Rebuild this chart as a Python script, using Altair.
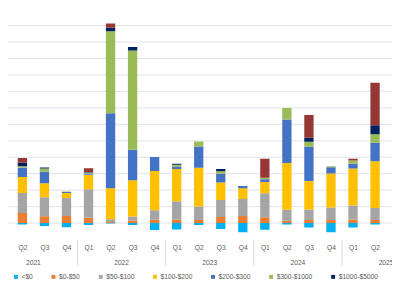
import json
import altair as alt
import pandas as pd

FONT = "Liberation Sans"
TEXT_COLOR = "#595959"
FS = 6.8

# Categories
quarter_labels = ["Q1", "Q2", "Q3", "Q4", "Q1", "Q2", "Q3", "Q4", "Q1", "Q2", "Q3", "Q4",
                  "Q1", "Q2", "Q3", "Q4", "Q1", "Q2"]
years = ["2021", "2022", "2023", "2024", "2025"]
series = ["<$0", "$0-$50", "$50-$100", "$100-$200", "$200-$300", "$300-$1000",
          "$1000-$5000", "> $5000"]
colors = ["#00B0F0", "#ED7D31", "#A5A5A5", "#FFC000", "#4472C4", "#9BBB59",
          "#002060", "#953735"]
grid_values = [0, 100, 200, 300, 400, 500, 600, 700, 800, 900, 1000, 1100, 1200]

# Series values (Q1 2021 ... Q2 2025)
v_neg = [-10, -8, -18, -26, -12, -2, -12, -42, -39, -11, -36, -55, -40, -8, -27, -55, -27, -8]
v_0_50 = [117, 62, 42, 43, 32, 7, 16, 21, 20, 18, 37, 43, 35, 14, 18, 18, 22, 18]
v_50_100 = [24, 121, 115, 110, 174, 17, 24, 57, 113, 83, 104, 104, 146, 67, 64, 76, 85, 74]
v_100_200 = [0, 97, 85, 30, 88, 187, 220, 238, 196, 235, 105, 65, 69, 284, 174, 207, 224, 283]
v_200_300 = [0, 56, 70, 6, 8, 456, 185, 85, 15, 129, 54, 14, 16, 264, 208, 39, 30, 113]
v_300_1000 = [0, 10, 20, 3, 6, 498, 604, 0, 10, 30, 15, 0, 10, 70, 30, 6, 20, 52]
v_1000_5000 = [0, 20, 5, 0, 3, 22, 21, 0, 6, 0, 14, 0, 0, 0, 24, 0, 0, 54]
v_5000 = [0, 30, 0, 0, 22, 26, 0, 0, 0, 0, 0, 0, 115, 0, 139, 0, 10, 258]

all_values = [v_neg, v_0_50, v_50_100, v_100_200, v_200_300, v_300_1000, v_1000_5000, v_5000]

rows = []
for s_idx, (name, vals) in enumerate(zip(series, all_values)):
    for q_idx, v in enumerate(vals):
        rows.append({"idx": q_idx, "series": name, "order": s_idx, "value": v})
df = pd.DataFrame(rows)

year_df = pd.DataFrame({"year": years, "idx": [1.5 + 4 * k for k in range(len(years))]})
sep_df = pd.DataFrame({"idx": [3.5 + 4 * k for k in range(len(years) - 1)]})
grid_df = pd.DataFrame({"value": grid_values})

xscale = alt.Scale(domain=[0.3467, 17.7689], nice=False, zero=False, padding=0)
yscale = alt.Scale(domain=[-91.07, 1289.9], nice=False, zero=False, padding=0)

xaxis = alt.Axis(
    values=list(range(1, len(quarter_labels))),
    labelExpr=json.dumps(quarter_labels) + "[datum.value]",
    grid=False, domain=False, ticks=False, tickSize=0,
    labelPadding=7, labelFontSize=FS, labelFont=FONT, labelColor=TEXT_COLOR,
    labelOverlap=False, labelFlush=False, title=None,
)

gridlines = alt.Chart(grid_df).mark_rule(color="#DFE2EB", strokeWidth=1).encode(
    y=alt.Y("value:Q", scale=yscale, axis=None),
)

bars = alt.Chart(df).mark_bar(size=9.5, clip=True).encode(
    x=alt.X("idx:Q", scale=xscale, axis=xaxis),
    y=alt.Y("value:Q", stack="zero", scale=yscale, axis=None),
    color=alt.Color(
        "series:N",
        scale=alt.Scale(domain=series, range=colors),
        legend=alt.Legend(
            orient="none", legendX=4.7, legendY=267.8, direction="horizontal",
            title=None, symbolType="square", symbolSize=16, symbolStrokeWidth=0,
            labelFontSize=FS, labelFont=FONT, labelColor=TEXT_COLOR,
            labelOffset=2.3, columnPadding=17.3, padding=0, columns=8,
        ),
    ),
    order=alt.Order("order:Q", sort="ascending"),
)

year_text = alt.Chart(year_df).mark_text(
    fontSize=FS, font=FONT, color=TEXT_COLOR, baseline="alphabetic", align="center"
).encode(
    x=alt.X("idx:Q", scale=xscale, axis=xaxis),
    y=alt.value(259.7),
    text="year:N",
)

separators = alt.Chart(sep_df).mark_rule(color="#D9D9D9", strokeWidth=1).encode(
    x=alt.X("idx:Q", scale=xscale, axis=xaxis),
    y=alt.value(233.7),
    y2=alt.value(260.3),
)

chart = (
    alt.layer(gridlines, bars, separators, year_text)
    .properties(
        width=392, height=232,
        autosize=alt.AutoSizeParams(type="none"),
        padding={"left": 0, "right": 0, "top": 0, "bottom": 43},
    )
    .configure(background="white")
    .configure_view(strokeWidth=0, strokeOpacity=0)
    .configure_axis(domain=False, ticks=False, domainOpacity=0)
)

chart.save("out.html", embed_options={"renderer": "svg", "actions": False})
